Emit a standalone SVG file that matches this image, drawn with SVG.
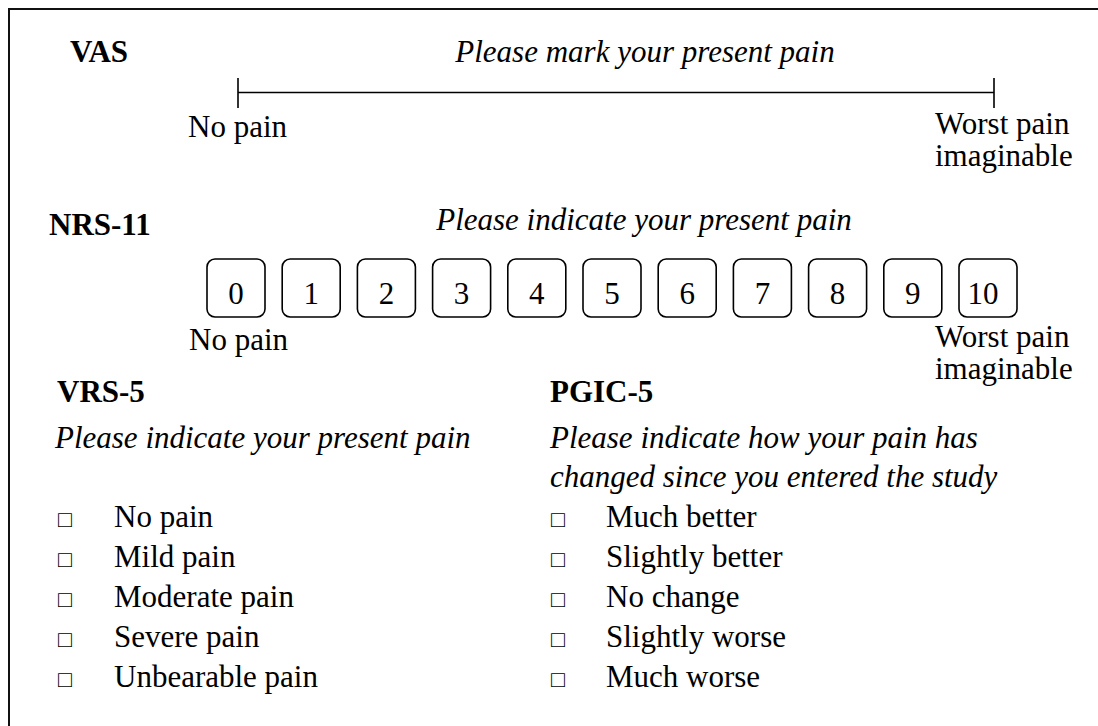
<svg xmlns="http://www.w3.org/2000/svg" width="1098" height="726" viewBox="0 0 1098 726">
<style>
text{font-family:"Liberation Serif","Times New Roman",serif;font-size:31px;fill:#000}
.b{font-weight:bold}
.i{font-style:italic}
.m{text-anchor:middle}
.cb{font-size:23px}
.box{fill:#fff;stroke:#000;stroke-width:1.6}
.ln{stroke:#000;stroke-width:1.6;fill:none}
</style>
<rect width="1098" height="726" fill="#fff"/>
<g id="frame"><path d="M1098 9 H9 V726" fill="none" stroke="#111" stroke-width="2"/></g>
<g id="vas">
<text class="b" x="70" y="62">VAS</text>
<text class="i m" x="645" y="62">Please mark your present pain</text>
<text x="188" y="137">No pain</text>
<text x="935" y="134">Worst pain</text>
<text x="935" y="166">imaginable</text>
</g>
<g id="connectors">
<path class="ln" d="M238 92.5 H994 M238 78 V108 M994 78 V108"/>
</g>
<g id="nrs">
<text class="b" x="49" y="235">NRS-11</text>
<text class="i m" x="644" y="230">Please indicate your present pain</text>
<g id="n0"><rect class="box" x="207" y="259" width="58" height="58" rx="8"/><text class="m" x="236" y="304">0</text></g>
<g id="n1"><rect class="box" x="282.2" y="259" width="58" height="58" rx="8"/><text class="m" x="311.2" y="304">1</text></g>
<g id="n2"><rect class="box" x="357.4" y="259" width="58" height="58" rx="8"/><text class="m" x="386.4" y="304">2</text></g>
<g id="n3"><rect class="box" x="432.6" y="259" width="58" height="58" rx="8"/><text class="m" x="461.6" y="304">3</text></g>
<g id="n4"><rect class="box" x="507.8" y="259" width="58" height="58" rx="8"/><text class="m" x="536.8" y="304">4</text></g>
<g id="n5"><rect class="box" x="583" y="259" width="58" height="58" rx="8"/><text class="m" x="612" y="304">5</text></g>
<g id="n6"><rect class="box" x="658.2" y="259" width="58" height="58" rx="8"/><text class="m" x="687.2" y="304">6</text></g>
<g id="n7"><rect class="box" x="733.4" y="259" width="58" height="58" rx="8"/><text class="m" x="762.4" y="304">7</text></g>
<g id="n8"><rect class="box" x="808.6" y="259" width="58" height="58" rx="8"/><text class="m" x="837.6" y="304">8</text></g>
<g id="n9"><rect class="box" x="883.8" y="259" width="58" height="58" rx="8"/><text class="m" x="912.8" y="304">9</text></g>
<g id="n10"><rect class="box" x="959" y="259" width="58" height="58" rx="8"/><text class="m" x="983" y="304">10</text></g>
<text x="189" y="350">No pain</text>
<text x="935" y="347">Worst pain</text>
<text x="935" y="379">imaginable</text>
</g>
<g id="vrs">
<text class="b" x="57" y="402">VRS-5</text>
<text class="i" x="55" y="448">Please indicate your present pain</text>
<text class="cb" x="58" y="527">□</text><text x="114" y="527">No pain</text>
<text class="cb" x="58" y="567">□</text><text x="114" y="567">Mild pain</text>
<text class="cb" x="58" y="607">□</text><text x="114" y="607">Moderate pain</text>
<text class="cb" x="58" y="647">□</text><text x="114" y="647">Severe pain</text>
<text class="cb" x="58" y="687">□</text><text x="114" y="687">Unbearable pain</text>
</g>
<g id="pgic">
<text class="b" x="550" y="402">PGIC-5</text>
<text class="i" x="550" y="448">Please indicate how your pain has</text>
<text class="i" x="550" y="487">changed since you entered the study</text>
<text class="cb" x="551" y="527">□</text><text x="606" y="527">Much better</text>
<text class="cb" x="551" y="567">□</text><text x="606" y="567">Slightly better</text>
<text class="cb" x="551" y="607">□</text><text x="606" y="607">No change</text>
<text class="cb" x="551" y="647">□</text><text x="606" y="647">Slightly worse</text>
<text class="cb" x="551" y="687">□</text><text x="606" y="687">Much worse</text>
</g>
</svg>
